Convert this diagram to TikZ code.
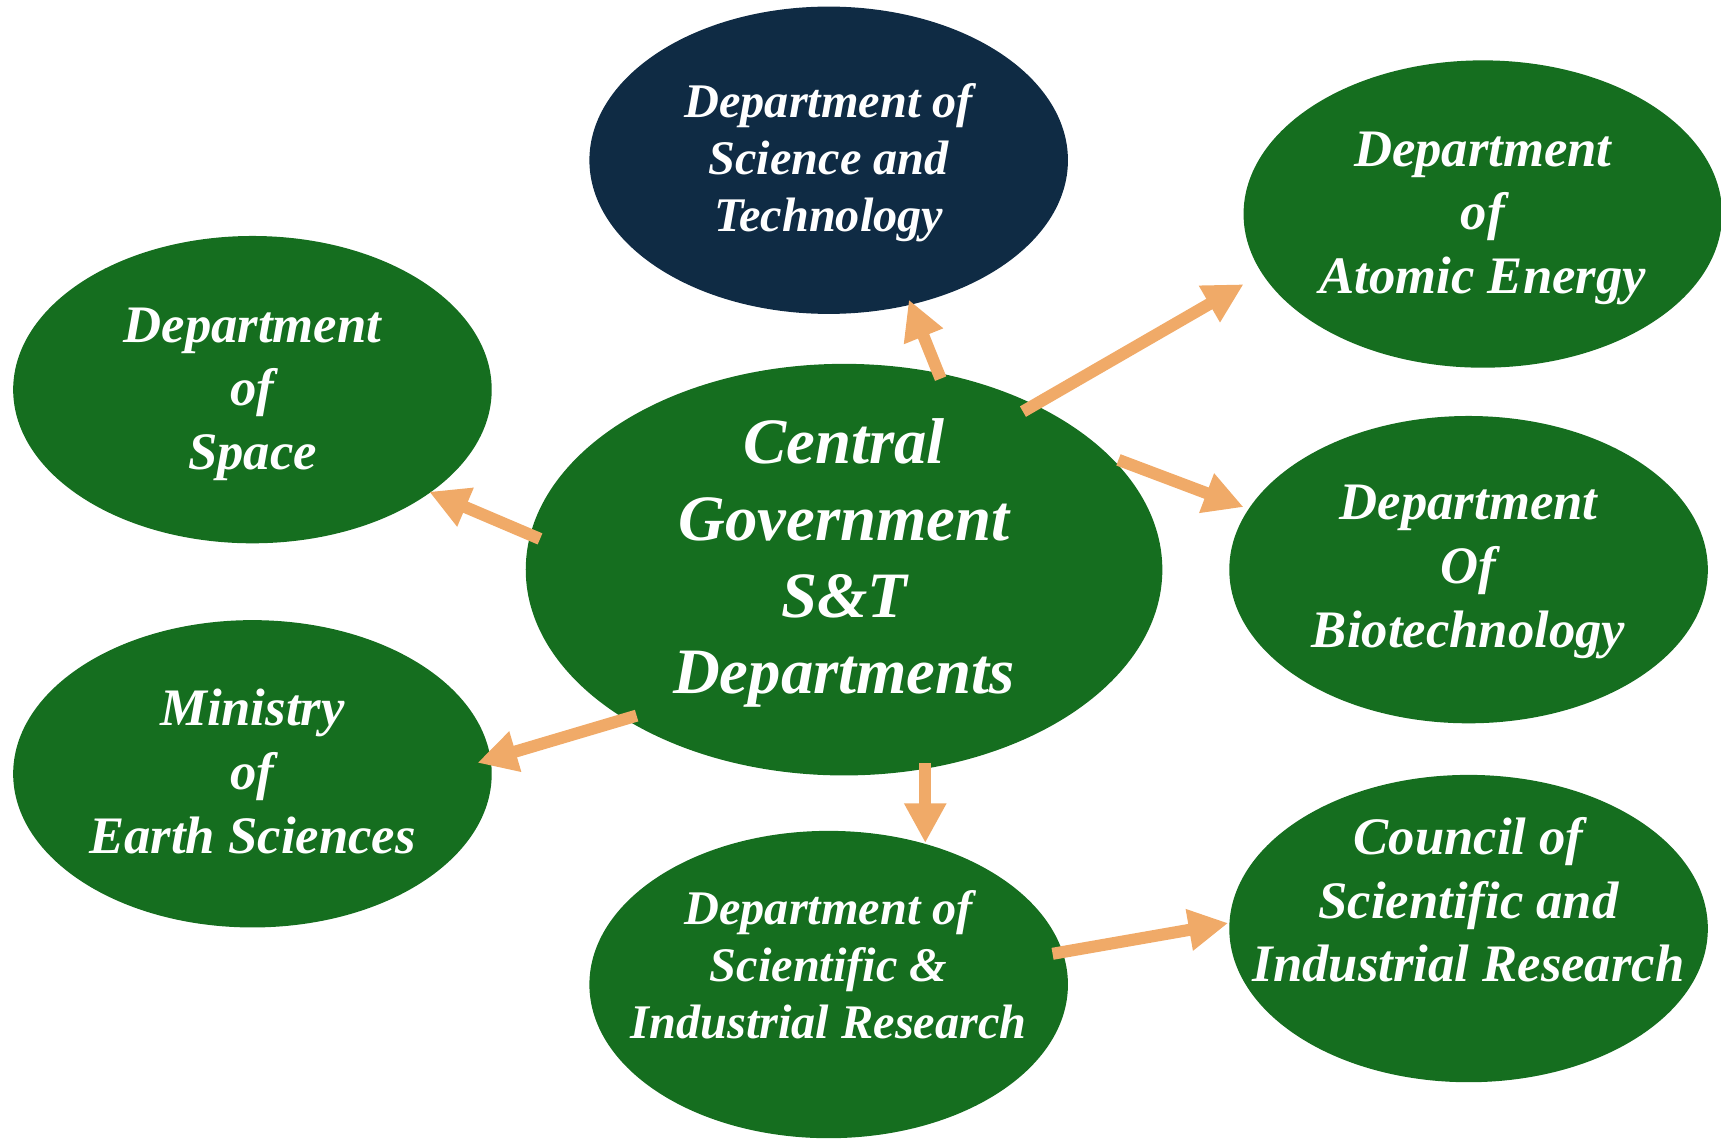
\documentclass[tikz,border=0pt]{standalone}
\usepackage{fontspec}
\setmainfont{Liberation Serif}
\usetikzlibrary{shapes.geometric,arrows.meta}
\definecolor{dgreen}{HTML}{156E1F}
\definecolor{dnavy}{HTML}{0F2B44}
\definecolor{aorange}{HTML}{F0AA68}
\begin{document}
\begin{tikzpicture}[x=0.5pt,y=-0.5pt,
  oval/.style={ellipse, fill=dgreen, inner sep=0pt,
    minimum width=218pt, minimum height=140pt},
  txt/.style={text=white, inner sep=0pt, align=center,
    font=\bfseries\itshape\fontsize{24}{29}\selectfont},
  smalltext/.style={txt, font=\bfseries\itshape\fontsize{22}{26}\selectfont},
  bigtext/.style={txt, font=\bfseries\itshape\fontsize{29.5}{35}\selectfont},
  conn/.style={draw=aorange, line width=5.5pt, -{Triangle[length=18pt,width=18pt]}}]
\useasboundingbox (0,0) rectangle (1568,1038);
% ellipses
\node[oval, minimum width=290pt, minimum height=187.5pt] (c) at (769,519) {};
\node[oval, fill=dnavy] (dst) at (755,146) {};
\node[oval] (dae) at (1351,195) {};
\node[oval] (dbt) at (1338,519) {};
\node[oval] (csir) at (1338,846) {};
\node[oval] (dsir) at (755,897) {};
\node[oval] (dos) at (230,355) {};
\node[oval] (moes) at (230,705) {};
% texts
\node[bigtext] (c-t) at ([yshift=3pt]c.center) {Central\\Government\\S\&T\\Departments};
\node[smalltext] (dst-t) at ([yshift=-1pt]dst.center) {Department of\\Science and\\Technology};
\node[txt] (dae-t) at ([yshift=-2pt]dae.center) {Department\\of\\Atomic Energy};
\node[txt] (dbt-t) at ([yshift=-1pt]dbt.center) {Department\\Of\\Biotechnology};
\node[txt] (csir-t) at ([yshift=13pt]csir.center) {Council of\\Scientific and\\Industrial Research};
\node[smalltext] (dsir-t) at ([yshift=9pt]dsir.center) {Department of\\Scientific \&\\Industrial Research};
\node[txt] (dos-t) at ([yshift=-2pt]dos.center) {Department\\of\\Space};
\node[txt] (moes-t) at ([yshift=1pt]moes.center) {Ministry\\of\\Earth Sciences};
% arrow end points
\coordinate (s1) at (857,345); \coordinate (t1) at (828,273);
\coordinate (s2) at (932,375); \coordinate (t2) at (1133,259);
\coordinate (s3) at (1019,419); \coordinate (t3) at (1133,462);
\coordinate (s4) at (492,491); \coordinate (t4) at (391,448);
\coordinate (s5) at (580,652); \coordinate (t5) at (435,695);
\coordinate (s6) at (843,695); \coordinate (t6) at (843,768);
\coordinate (s7) at (959,869); \coordinate (t7) at (1119,841);
% connectors
\draw[conn] (s1) -- (t1);
\draw[conn] (s2) -- (t2);
\draw[conn] (s3) -- (t3);
\draw[conn] (s4) -- (t4);
\draw[conn] (s5) -- (t5);
\draw[conn] (s6) -- (t6);
\draw[conn] (s7) -- (t7);
\end{tikzpicture}
\end{document}
